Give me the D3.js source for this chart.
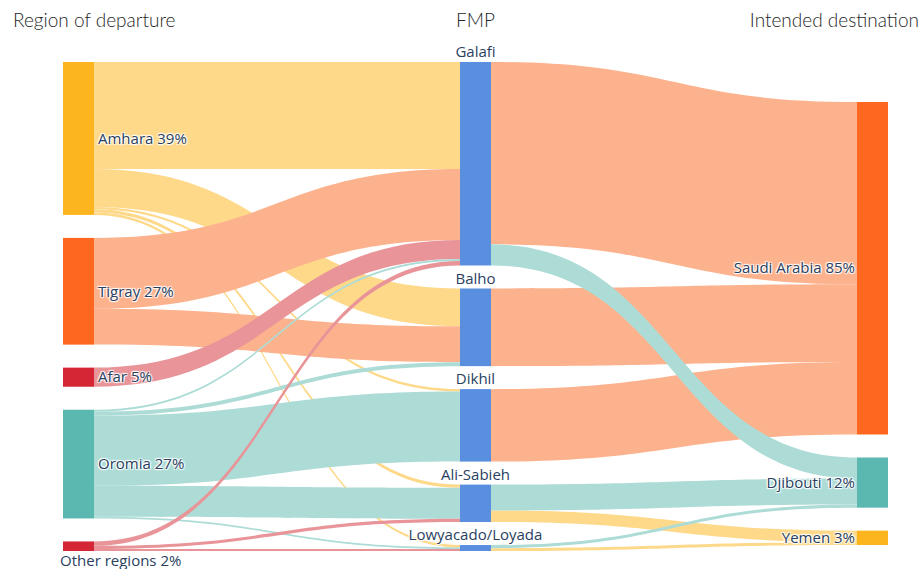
<!DOCTYPE html>
<html>
<head>
    <meta charset="UTF-8">
    <title>Region of departure - FMP - Intended destination</title>
    <script src="https://d3js.org/d3.v7.min.js"></script>
    <style>
        body {
            margin: 0;
            background: #fff;
        }
        .header {
            font-family: "Lato", "Open Sans", sans-serif;
            font-weight: 300;
            font-size: 19px;
            fill: #262626;
        }
        .node-label {
            font-family: "Open Sans", sans-serif;
            font-size: 15px;
            fill: #2a3f5f;
            text-shadow: 1px 1px 1px #fff, -1px -1px 1px #fff, 1px -1px 1px #fff, -1px 1px 1px #fff;
        }
    </style>
</head>
<body>
    <div id="chart"></div>
    <script>
        // column headers
        const headers = ["Region of departure", "FMP", "Intended destination"];

        // nodes
        const regionLabels = ["Amhara 39%", "Tigray 27%", "Afar 5%", "Oromia 27%", "Other regions 2%"];
        const fmpLabels = ["Galafi", "Balho", "Dikhil", "Ali-Sabieh", "Lowyacado/Loyada"];
        const destLabels = ["Saudi Arabia 85%", "Djibouti 12%", "Yemen 3%"];

        // share of migrants (%), rows = region, columns = FMP
        const regionToFmp = [
            [26.9, 9.5, 0.6, 0.8, 0.6],   // Amhara
            [17.8, 9.0, 0, 0, 0],         // Tigray
            [4.8, 0, 0, 0, 0],            // Afar
            [0.5, 1.0, 17.6, 7.8, 0.4],   // Oromia
            [1.1, 0, 0, 0.8, 0.5]         // Other regions
        ];

        // share of migrants (%), rows = FMP, columns = destination
        const fmpToDest = [
            [45.8, 5.3, 0],    // Galafi
            [19.5, 0, 0],      // Balho
            [18.2, 0, 0],      // Dikhil
            [0, 6.5, 2.9],     // Ali-Sabieh
            [0, 0.8, 0.7]      // Lowyacado/Loyada
        ];

        // colours
        const regionColors = ["#fdb51f", "#fe671f", "#d42634", "#5bb8b0", "#d42634"];
        const regionLinkColors = ["#fed98a", "#fdb28e", "#e89498", "#addcd7", "#e89498"];
        const fmpColor = "#5a8fe0";
        const destColors = ["#fe671f", "#5bb8b0", "#fdb51f"];
        const destLinkColors = ["#fdb28e", "#addcd7", "#fed98a"];

        // which links are painted first (bottom) to last (top)
        const regionDrawOrder = [0, 1, 2, 3, 4];
        const destDrawOrder = [0, 2, 1];

        const width = 919;
        const height = 569;
        const nodeWidth = 31;
        const nodePad = 23;
        const yTop = 62, yBottom = 551;
        const colOffset = [0, 0, 40];

        const svg = d3.select("#chart")
            .append("svg")
            .attr("width", width)
            .attr("height", height);

        // build nodes per column
        const columns = [
            regionLabels.map((l, i) => ({label: l, color: regionColors[i], value: d3.sum(regionToFmp[i])})),
            fmpLabels.map((l, i) => ({
                label: l, color: fmpColor,
                value: Math.max(d3.sum(regionToFmp, r => r[i]), d3.sum(fmpToDest[i]))
            })),
            destLabels.map((l, i) => ({label: l, color: destColors[i], value: d3.sum(fmpToDest, r => r[i])}))
        ];

        const x = d3.scaleLinear().domain([0, 2]).range([63, 857]);

        const maxCol = d3.max(columns, c => d3.sum(c, d => d.value));
        const maxCount = d3.max(columns, c => c.length);
        const y = d3.scaleLinear()
            .domain([0, maxCol])
            .range([0, (yBottom - yTop) - (maxCount - 1) * nodePad]);

        columns.forEach((col, ci) => {
            let cur = yTop + colOffset[ci];
            col.forEach(n => {
                n.col = ci;
                n.x0 = x(ci);
                n.x1 = x(ci) + nodeWidth;
                n.y0 = cur;
                n.y1 = cur + y(n.value);
                n.outY = n.y0;
                n.inY = n.y0;
                cur = n.y1 + nodePad;
            });
        });

        // build links, stacked by target at the source and by source at the target
        const links = [];
        regionToFmp.forEach((row, s) => row.forEach((v, t) => {
            if (v > 0) links.push({s: columns[0][s], t: columns[1][t], v: v, color: regionLinkColors[s], order: regionDrawOrder.indexOf(s)});
        }));
        fmpToDest.forEach((row, s) => row.forEach((v, t) => {
            if (v > 0) links.push({s: columns[1][s], t: columns[2][t], v: v, color: destLinkColors[t], order: 10 + destDrawOrder.indexOf(t)});
        }));
        links.forEach(l => {
            l.sy0 = l.s.outY;
            l.sy1 = l.sy0 + y(l.v);
            l.s.outY = l.sy1;
        });
        columns.slice(1).forEach(col => {
            col.forEach(n => {
                links.filter(l => l.t === n)
                    .sort((a, b) => a.s.y0 - b.s.y0)
                    .forEach(l => {
                        l.ty0 = n.inY;
                        l.ty1 = l.ty0 + y(l.v);
                        n.inY = l.ty1;
                    });
            });
        });

        function bandPath(l) {
            const x0 = l.s.x1, x1 = l.t.x0;
            const xm = (x0 + x1) / 2;
            return `M${x0},${l.sy0}C${xm},${l.sy0} ${xm},${l.ty0} ${x1},${l.ty0}` +
                `L${x1},${l.ty1}C${xm},${l.ty1} ${xm},${l.sy1} ${x0},${l.sy1}Z`;
        }

        svg.append("g")
            .selectAll("path")
            .data(links.slice().sort((a, b) => a.order - b.order))
            .join("path")
            .attr("d", bandPath)
            .attr("fill", d => d.color);

        const allNodes = columns.flat();

        svg.append("g")
            .selectAll("rect")
            .data(allNodes)
            .join("rect")
            .attr("x", d => d.x0)
            .attr("y", d => d.y0)
            .attr("width", d => d.x1 - d.x0)
            .attr("height", d => Math.max(1, d.y1 - d.y0))
            .attr("fill", d => d.color);

        // node labels
        svg.append("g")
            .selectAll("text")
            .data(allNodes)
            .join("text")
            .attr("class", "node-label")
            .attr("x", d => {
                if (d.col === 0) return (d.y1 - d.y0 < 12) ? d.x0 - 3 : d.x1 + 4;
                if (d.col === 1) return (d.x0 + d.x1) / 2;
                return d.x0 - 2;
            })
            .attr("y", d => {
                if (d.col === 0) return (d.y1 - d.y0 < 12) ? d.y1 + 10 : (d.y0 + d.y1) / 2;
                if (d.col === 1) return d.y0 - 10;
                return (d.y0 + d.y1) / 2;
            })
            .attr("dy", "0.35em")
            .attr("text-anchor", d => d.col === 0 ? "start" : d.col === 1 ? "middle" : "end")
            .text(d => d.label);

        // column headers
        svg.append("g")
            .selectAll("text")
            .data(headers)
            .join("text")
            .attr("class", "header")
            .attr("x", (d, i) => i === 0 ? 13 : i === 1 ? x(1) + nodeWidth / 2 : width)
            .attr("y", 20)
            .attr("dy", "0.35em")
            .attr("text-anchor", (d, i) => i === 0 ? "start" : i === 1 ? "middle" : "end")
            .text(d => d);
    </script>
</body>
</html>
